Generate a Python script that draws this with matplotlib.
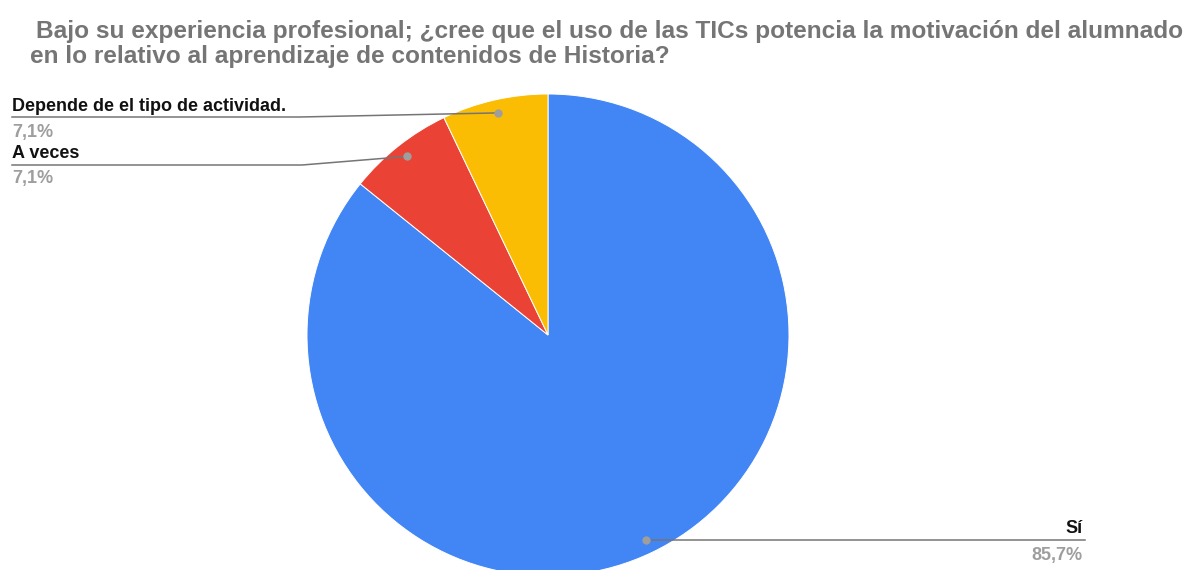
import numpy as np
import matplotlib
matplotlib.use("Agg")
import matplotlib.pyplot as plt

plt.rcParams['font.family'] = ['Liberation Sans', 'DejaVu Sans']

categories = ["Sí", "A veces", "Depende de el tipo de actividad."]
values = [85.7, 7.1, 7.1]
pct_labels = ["85,7%", "7,1%", "7,1%"]
colors = ["#4285F4", "#EA4335", "#FBBC04"]
title_lines = ["Bajo su experiencia profesional; ¿cree que el uso de las TICs potencia la motivación del alumnado",
               "en lo relativo al aprendizaje de contenidos de Historia?"]

W, H = 1185, 570
fig = plt.figure(figsize=(W / 100, H / 100), dpi=100)
ax = fig.add_axes([0, 0, 1, 1])

def Y(py):
    return H - py

cx, cy, R = 548, 335, 241
ax.pie(values, colors=colors, startangle=90, counterclock=False,
       center=(cx, Y(cy)), radius=R,
       wedgeprops=dict(edgecolor='white', linewidth=0.7))
ax.set_xlim(0, W)
ax.set_ylim(0, H)
ax.set_aspect('equal')
ax.axis('off')

# Title
ax.text(36, Y(38), title_lines[0], fontsize=17.6, fontweight='bold', color='#757575', ha='left', va='baseline')
ax.text(30, Y(63), title_lines[1], fontsize=17.6, fontweight='bold', color='#757575', ha='left', va='baseline')

# Anchor points (mid-angle of each wedge)
total = sum(values)
angles = []
start = 90.0
for v in values:
    sweep = v / total * 360
    angles.append(np.deg2rad(start - sweep / 2))
    start -= sweep
anchors = [(cx + 0.945 * R * np.cos(a), cy - 0.945 * R * np.sin(a)) for a in angles]

line_c = '#757575'
dot_c = '#9e9e9e'

# Sí (right)
ax_, ay_ = anchors[0]
ax.plot([ax_, 1085], [Y(ay_), Y(ay_)], color=line_c, lw=1.1, zorder=3)
ax.text(1083, Y(533), categories[0], fontsize=13, fontweight='bold', color='#111111', ha='right', va='baseline')
ax.text(1083, Y(560), pct_labels[0], fontsize=13, fontweight='bold', color=dot_c, ha='right', va='baseline')

# Left labels
left_cfg = [(2, 117, 300, 111, 137), (1, 165, 302, 158, 183)]
for idx, ly, bend_x, tb, pb in left_cfg:
    ax_, ay_ = anchors[idx]
    ax.plot([12, bend_x, ax_], [Y(ly), Y(ly), Y(ay_)], color=line_c, lw=1.1, zorder=3)
    ax.text(12, Y(tb), categories[idx], fontsize=13, fontweight='bold', color='#111111', ha='left', va='baseline')
    ax.text(12, Y(pb), pct_labels[idx], fontsize=13, fontweight='bold', color=dot_c, ha='left', va='baseline')

for (px, py) in anchors:
    ax.plot(px, Y(py), 'o', color=dot_c, ms=5, zorder=4)

fig.savefig("out.png", dpi=100)
